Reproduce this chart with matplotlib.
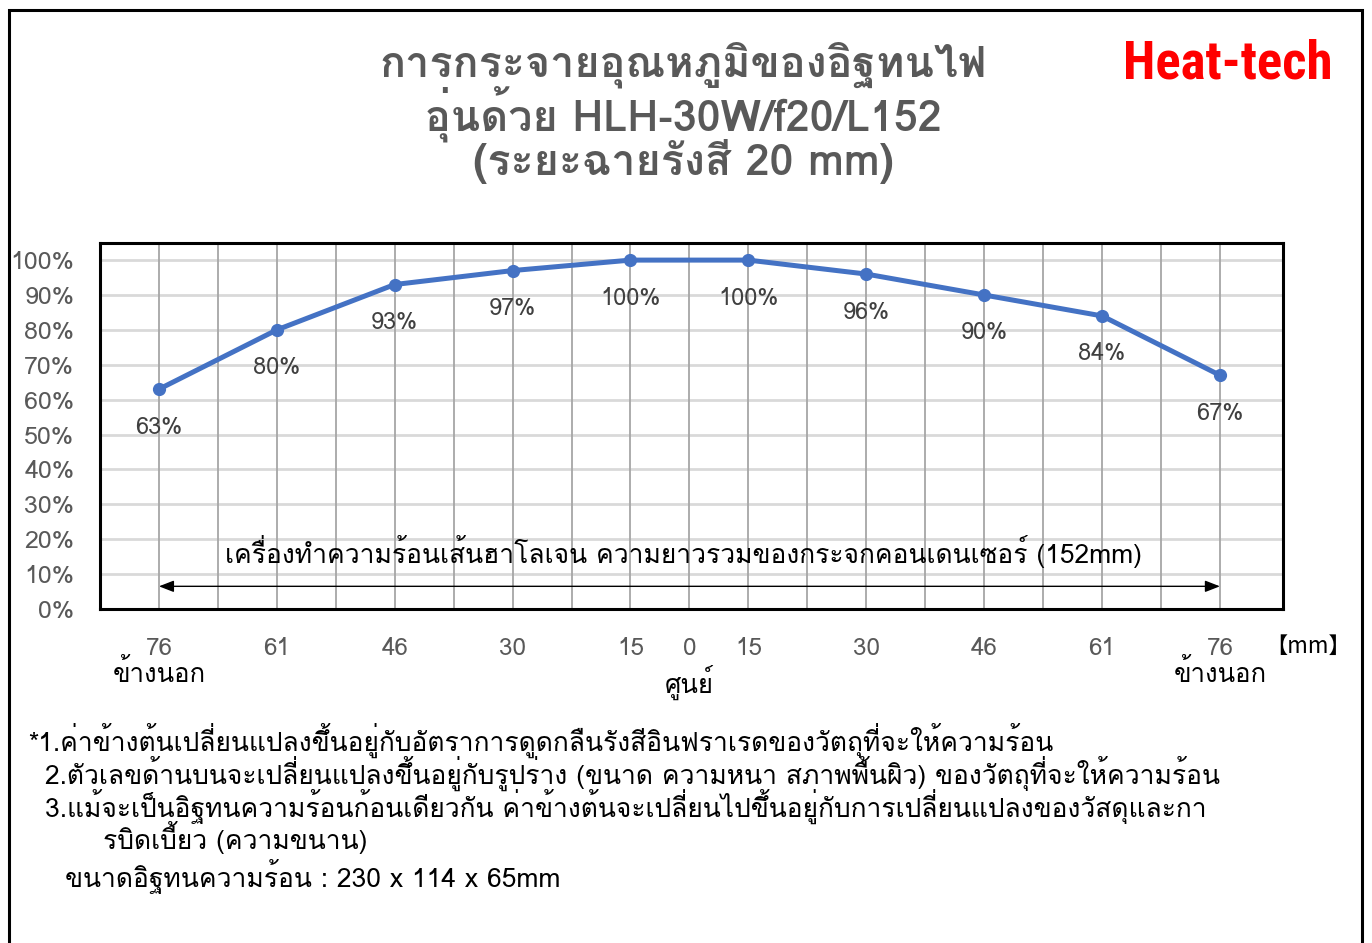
import matplotlib
matplotlib.use('Agg')
import matplotlib.pyplot as plt
import matplotlib.patches as mpatches
from matplotlib import font_manager
from matplotlib.ft2font import FT2Font

# ---------------------------------------------------------------------------
# Data
# ---------------------------------------------------------------------------
positions = [0, 2, 4, 6, 8, 10, 12, 14, 16, 18]        # half-step slots
values = [63, 80, 93, 97, 100, 100, 96, 90, 84, 67]     # %
tick_pos = [0, 2, 4, 6, 8, 9, 10, 12, 14, 16, 18]
tick_labels = ['76', '61', '46', '30', '15', '0', '15', '30', '46', '61', '76']
yticks = list(range(0, 101, 10))

title_lines = ['การกระจายอุณหภูมิของอิฐทนไฟ',
               'อุ่นด้วย HLH-30W/f20/L152',
               '(ระยะฉายรังสี 20 mm)']
arrow_text = 'เครื่องทำความร้อนเส้นฮาโลเจน ความยาวรวมของกระจกคอนเดนเซอร์ (152mm)'
notes = [
    (28, 740, '*1.ค่าข้างต้นเปลี่ยนแปลงขึ้นอยู่กับอัตราการดูดกลืนรังสีอินฟราเรดของวัตถุที่จะให้ความร้อน'),
    (45, 773, '2.ตัวเลขด้านบนจะเปลี่ยนแปลงขึ้นอยู่กับรูปร่าง (ขนาด ความหนา สภาพพื้นผิว) ของวัตถุที่จะให้ความร้อน'),
    (45, 806, '3.แม้จะเป็นอิฐทนความร้อนก้อนเดียวกัน ค่าข้างต้นจะเปลี่ยนไปขึ้นอยู่กับการเปลี่ยนแปลงของวัสดุและกา'),
    (103, 837, 'รบิดเบี้ยว (ความขนาน)'),
    (65, 876, 'ขนาดอิฐทนความร้อน : 230 x 114 x 65mm'),
]


def find_thai_family():
    for f in font_manager.fontManager.ttflist:
        try:
            if 0x0E01 in FT2Font(f.fname).get_charmap():
                return f.name
        except Exception:
            pass
    return 'DejaVu Sans'


THAI = find_thai_family()
FAM = [THAI, 'DejaVu Sans', 'Noto Sans CJK JP']
plt.rcParams['font.family'] = FAM

W, H = 1372, 943
fig = plt.figure(figsize=(W / 100, H / 100), dpi=100)
fig.patch.set_facecolor('white')


def fx(px):
    return px / W


def fy(py):
    return 1 - py / H


# outer frame
fig.add_artist(mpatches.Rectangle((fx(9), fy(960)), fx(1362) - fx(9), fy(10) - fy(960),
                                  transform=fig.transFigure, fill=False,
                                  edgecolor='black', linewidth=2.2))

# plot area
ax = fig.add_axes([fx(100), fy(609), fx(1283) - fx(100), fy(243) - fy(609)])
ax.set_xlim(-1, 19.07)
ax.set_ylim(0, 104.9)

for x in range(19):
    ax.axvline(x, color='#a6a6a6', lw=1.3, zorder=1)
for y in yticks:
    ax.axhline(y, color='#d9d9d9', lw=2.0, zorder=0.9)

ax.plot(positions, values, color='#4472C4', lw=3.6, marker='o', ms=8.5,
        solid_capstyle='round', zorder=3)

for x, v in zip(positions, values):
    ax.annotate(f'{v}%', (x, v), xytext=(0, -38), textcoords='offset pixels',
                ha='center', va='center', fontsize=17, color='#404040', zorder=4)

for s in ax.spines.values():
    s.set_linewidth(2.2)
    s.set_color('black')

ax.set_yticks(yticks)
ax.set_yticklabels([f'{y}%' for y in yticks], fontsize=18, color='#595959')
ax.set_xticks(tick_pos)
ax.set_xticklabels(tick_labels, fontsize=17.5, color='#595959')
ax.tick_params(axis='both', length=0)
ax.tick_params(axis='y', pad=18.5)
ax.tick_params(axis='x', pad=20)

xt = ax.get_xaxis_transform()
ax.text(0, -0.175, 'ข้างนอก', transform=xt, ha='center', va='center', fontsize=18.5, color='black')
ax.text(18, -0.175, 'ข้างนอก', transform=xt, ha='center', va='center', fontsize=18.5, color='black')
ax.text(9, -0.2, 'ศูนย์', transform=xt, ha='center', va='center', fontsize=18.5, color='black')
ax.text(19.5, -0.101, '【mm】', transform=xt, ha='center', va='center', fontsize=16,
        color='black', family=['Noto Sans CJK JP', 'DejaVu Sans'])

# span arrow
ax.annotate('', xy=(18, 6.5), xytext=(0, 6.5),
            arrowprops=dict(arrowstyle='<|-|>,head_length=0.9,head_width=0.35',
                            color='black', lw=1.0, shrinkA=0, shrinkB=0), zorder=4)
ax.text(8.9, 16.5, arrow_text, ha='center', va='center', fontsize=19, color='black', zorder=4)

# title
for i, line in enumerate(title_lines):
    fig.text(fx(683), fy(65 + 48.5 * i), line, ha='center', va='center',
             fontsize=31, fontweight='bold', color='#595959')

fig.text(fx(1228), fy(64), 'Heat-tech', ha='center', va='center', fontsize=38,
         fontweight='bold', fontstretch='condensed', color='#FF0000',
         family=['Liberation Sans Narrow', 'Roboto Condensed', 'DejaVu Sans'])

for x, y, t in notes:
    fig.text(fx(x), fy(y), t, ha='left', va='center', fontsize=19, color='black')

fig.savefig('out.png', dpi=100, facecolor='white')
